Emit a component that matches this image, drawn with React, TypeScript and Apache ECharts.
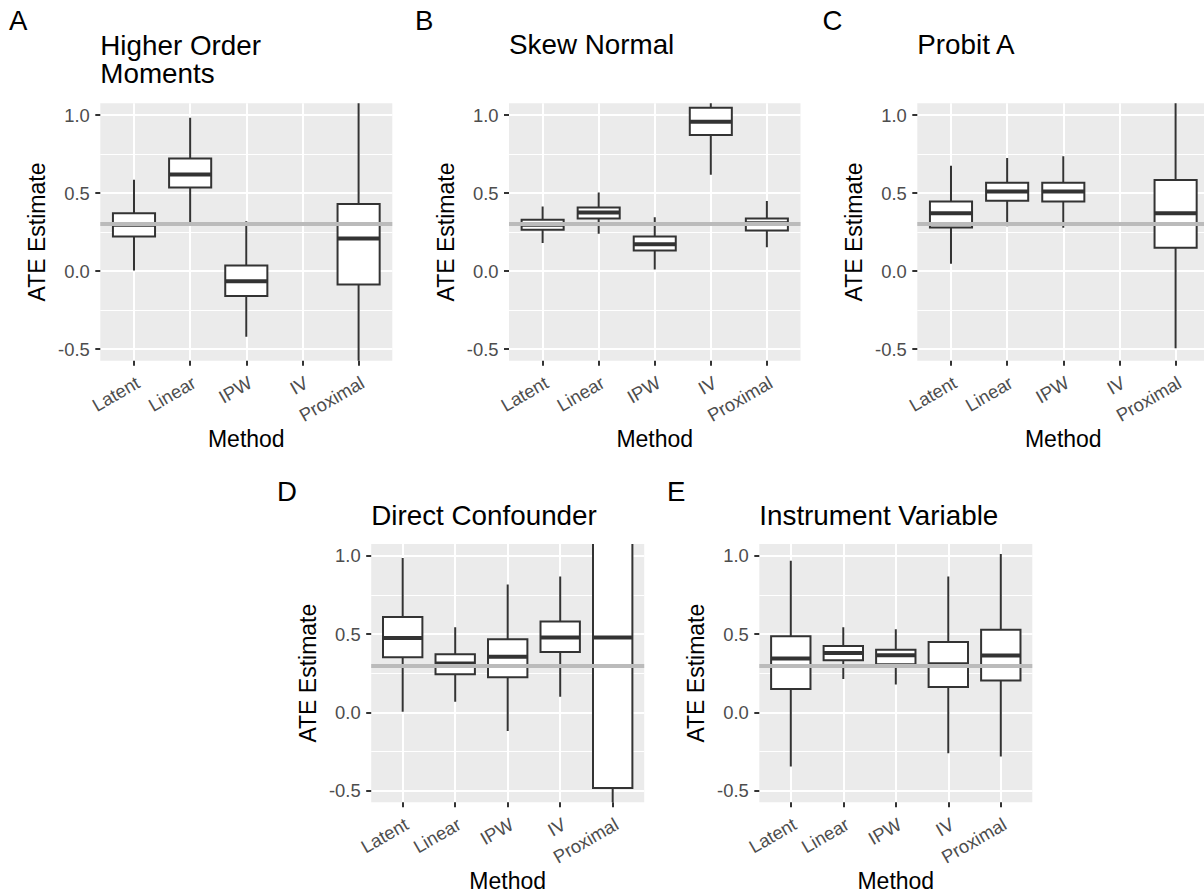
import React, { useEffect, useRef } from 'react';
import * as echarts from 'echarts';

// ---------- data ----------
const methods = ['Latent', 'Linear', 'IPW', 'IV', 'Proximal'];
const yTicks = [-0.5, 0, 0.5, 1.0];
const xTicks = [1, 2, 3, 4, 5];
const trueATE = 0.3;
const yLimits = [-0.5, 1.0];

const panelTags = ['A', 'B', 'C', 'D', 'E'];
const panelTitles = [['Higher Order', 'Moments'], ['Skew Normal'], ['Probit A'], ['Direct Confounder'], ['Instrument Variable']];

// Each box: [lower whisker, Q1, median, Q3, upper whisker]; null = not estimated
const higherOrderMoments = [
  [0.004, 0.221, 0.296, 0.370, 0.585],
  [0.292, 0.536, 0.619, 0.721, 0.983],
  [-0.421, -0.160, -0.066, 0.036, 0.319],
  null,
  [-0.80, -0.087, 0.209, 0.430, 1.15],
];
const skewNormal = [
  [0.179, 0.264, 0.296, 0.328, 0.413],
  [0.239, 0.336, 0.375, 0.407, 0.504],
  [0.009, 0.132, 0.172, 0.221, 0.345],
  [0.617, 0.872, 0.957, 1.047, 1.12],
  [0.153, 0.260, 0.306, 0.336, 0.449],
];
const probitA = [
  [0.047, 0.279, 0.370, 0.445, 0.675],
  [0.287, 0.451, 0.509, 0.566, 0.724],
  [0.277, 0.445, 0.509, 0.566, 0.736],
  null,
  [-0.495, 0.149, 0.370, 0.583, 1.18],
];
const directConfounder = [
  [0.004, 0.352, 0.474, 0.608, 0.985],
  [0.068, 0.243, 0.311, 0.371, 0.544],
  [-0.119, 0.224, 0.354, 0.466, 0.816],
  [0.099, 0.385, 0.477, 0.580, 0.867],
  [-1.9, -0.483, 0.477, 1.44, 2.5],
];
const instrumentVariable = [
  [-0.346, 0.148, 0.343, 0.485, 0.968],
  [0.212, 0.333, 0.379, 0.423, 0.544],
  [0.178, 0.307, 0.364, 0.400, 0.530],
  [-0.261, 0.161, 0.307, 0.449, 0.868],
  [-0.282, 0.203, 0.362, 0.528, 1.011],
];
const panelData = [higherOrderMoments, skewNormal, probitA, directConfounder, instrumentVariable];

// ---------- layout ----------
const layout = [
  { left: 100.3, top: 103.3, width: 292, height: 257.4 },
  { left: 509, top: 103.3, width: 291.5, height: 257.4 },
  { left: 917.3, top: 103.3, width: 292, height: 257.4 },
  { left: 371.2, top: 544, width: 273, height: 258.3 },
  { left: 759.3, top: 544, width: 273, height: 258.3 },
];
const tagPos = [
  [9, 20], [415, 20], [822.5, 20], [277, 491.5], [667, 491.5],
];
const titleY = [[45, 73.4], [44], [44], [515.5], [515.5]];

const FONT = '"Liberation Sans", Arial, Helvetica, sans-serif';
const INK = '#333333';
const TICK_FONT = 18.4;
const X_MIN = 0.4;
const X_MAX = 5.6;
const yPad = (yLimits[1] - yLimits[0]) * 0.05;
const Y_MIN = yLimits[0] - yPad;
const Y_MAX = yLimits[1] + yPad;

function renderBox(params: any, api: any) {
  const x = api.value(0);
  const lo = api.value(1);
  const q1 = api.value(2);
  const med = api.value(3);
  const q3 = api.value(4);
  const hi = api.value(5);
  const halfW = api.size([0.75, 0])[0] / 2;
  const pHi = api.coord([x, hi]);
  const pQ3 = api.coord([x, q3]);
  const pMed = api.coord([x, med]);
  const pQ1 = api.coord([x, q1]);
  const pLo = api.coord([x, lo]);
  return {
    type: 'group',
    children: [
      { type: 'line', shape: { x1: pHi[0], y1: pHi[1], x2: pQ3[0], y2: pQ3[1] }, style: { stroke: INK, lineWidth: 2 } },
      { type: 'line', shape: { x1: pQ1[0], y1: pQ1[1], x2: pLo[0], y2: pLo[1] }, style: { stroke: INK, lineWidth: 2 } },
      {
        type: 'rect',
        shape: { x: pQ3[0] - halfW, y: pQ3[1], width: 2 * halfW, height: pQ1[1] - pQ3[1] },
        style: { fill: '#ffffff', stroke: INK, lineWidth: 2 },
      },
      {
        type: 'line',
        shape: { x1: pMed[0] - halfW, y1: pMed[1], x2: pMed[0] + halfW, y2: pMed[1] },
        style: { stroke: INK, lineWidth: 4 },
      },
    ],
  };
}

// x tick labels (rotated 30 deg, right/top anchored at the tick, as ggplot hjust=1, vjust=1)
function renderXLabel(params: any, api: any) {
  const v = api.value(0);
  const p = api.coord([v, api.value(1)]);
  return {
    type: 'text',
    x: p[0] - 0.5,
    y: p[1] + 12.5,
    rotation: Math.PI / 6,
    style: {
      text: methods[Math.round(v) - 1] || '',
      fill: '#4D4D4D', fontSize: TICK_FONT, fontFamily: FONT,
      align: 'right', verticalAlign: 'top',
    },
  };
}

function renderYLabel(params: any, api: any) {
  const v = api.value(1);
  const p = api.coord([api.value(0), v]);
  return {
    type: 'text',
    x: p[0] - 10.5,
    y: p[1],
    style: {
      text: v.toFixed(1),
      fill: '#4D4D4D', fontSize: TICK_FONT, fontFamily: FONT,
      align: 'right', verticalAlign: 'middle',
    },
  };
}

function buildOption() {
  const grid: any[] = [];
  const xAxis: any[] = [];
  const yAxis: any[] = [];
  const series: any[] = [];
  const graphic: any[] = [];

  layout.forEach((g, i) => {
    grid.push({
      left: g.left, top: g.top, width: g.width, height: g.height,
      show: true, backgroundColor: '#EBEBEB', borderWidth: 0, containLabel: false,
    });
    xAxis.push({
      type: 'value', gridIndex: i, min: X_MIN, max: X_MAX, position: 'bottom',
      axisLine: { show: false, onZero: false },
      axisTick: { show: true, customValues: xTicks, length: 5, lineStyle: { color: INK, width: 2 } },
      axisLabel: { show: false, customValues: xTicks },
      splitLine: { show: true, lineStyle: { color: '#FFFFFF', width: 2 } },
    });
    yAxis.push({
      type: 'value', gridIndex: i, position: 'left',
      min: Y_MIN, max: Y_MAX,
      minInterval: 0.5, maxInterval: 0.5,
      axisLine: { show: false, onZero: false },
      axisTick: { show: true, customValues: yTicks, length: 5, lineStyle: { color: INK, width: 2 } },
      axisLabel: { show: false, customValues: yTicks },
      splitLine: { show: true, lineStyle: { color: '#FFFFFF', width: 2 } },
      minorTick: { show: false, splitNumber: 2 },
      minorSplitLine: { show: true, lineStyle: { color: '#FFFFFF', width: 1 } },
    });
    series.push({
      type: 'line', xAxisIndex: i, yAxisIndex: i, data: [], z: 2, silent: true,
      markLine: {
        silent: true, symbol: ['none', 'none'], label: { show: false },
        lineStyle: { color: '#BBBBBB', width: 4, type: 'solid' },
        emphasis: { disabled: true },
        data: [{ yAxis: trueATE }],
      },
    });
    const items: number[][] = [];
    panelData[i].forEach((b, k) => {
      if (b) items.push([k + 1, ...b]);
    });
    series.push({
      type: 'custom', xAxisIndex: i, yAxisIndex: i, z: 3, clip: true, silent: true,
      encode: { x: 0, y: [1, 2, 3, 4, 5] },
      data: items,
      renderItem: renderBox,
    });
    series.push({
      type: 'custom', xAxisIndex: i, yAxisIndex: i, z: 4, clip: false, silent: true,
      encode: { x: 0, y: 1 },
      data: xTicks.map((v) => [v, Y_MIN]),
      renderItem: renderXLabel,
    });
    series.push({
      type: 'custom', xAxisIndex: i, yAxisIndex: i, z: 4, clip: false, silent: true,
      encode: { x: 0, y: 1 },
      data: yTicks.map((v) => [X_MIN, v]),
      renderItem: renderYLabel,
    });

    graphic.push({
      type: 'text', x: tagPos[i][0], y: tagPos[i][1],
      style: { text: panelTags[i], fill: '#000', fontSize: 27.6, fontFamily: FONT, align: 'left', verticalAlign: 'middle' },
    });
    panelTitles[i].forEach((line, li) => {
      graphic.push({
        type: 'text', x: g.left, y: titleY[i][li],
        style: {
          text: line, fill: '#000', fontSize: 27.8, fontFamily: FONT,
          align: 'left', verticalAlign: 'middle',
        },
      });
    });
    graphic.push({
      type: 'text', x: g.left - 63.5, y: g.top + g.height / 2, rotation: Math.PI / 2,
      style: { text: 'ATE Estimate', fill: '#000', fontSize: 23, fontFamily: FONT, align: 'center', verticalAlign: 'middle' },
    });
    graphic.push({
      type: 'text', x: g.left + g.width / 2, y: g.top + g.height + 78.5,
      style: { text: 'Method', fill: '#000', fontSize: 23, fontFamily: FONT, align: 'center', verticalAlign: 'middle' },
    });
  });

  return {
    animation: false,
    backgroundColor: '#FFFFFF',
    grid, xAxis, yAxis, series, graphic,
  };
}

export default function App() {
  const ref = useRef<HTMLDivElement>(null);
  useEffect(() => {
    if (!ref.current) return;
    const chart = echarts.init(ref.current, undefined, { renderer: 'svg' });
    chart.setOption(buildOption() as any);
    return () => chart.dispose();
  }, []);
  return (
    <div style={{ position: 'fixed', left: 0, top: 0, width: 1204, height: 895, overflow: 'hidden', background: '#fff' }}>
      <div ref={ref} style={{ width: 1212, height: 895 }} />
    </div>
  );
}
